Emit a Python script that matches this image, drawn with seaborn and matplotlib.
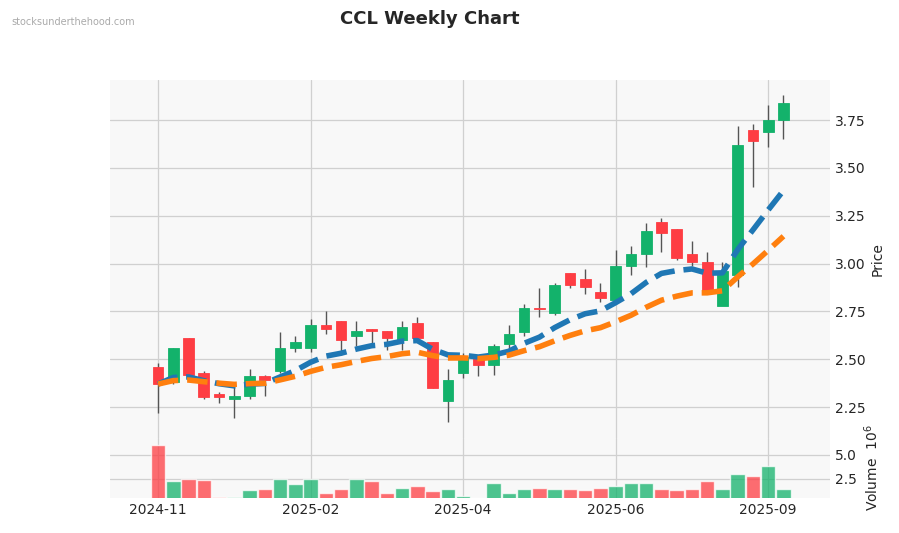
import numpy as np
import pandas as pd
import matplotlib
matplotlib.use("Agg")
import matplotlib.pyplot as plt
import seaborn as sns

opens  = [2.46,2.38,2.61,2.43,2.32,2.29,2.31,2.41,2.44,2.56,2.56,2.68,2.70,2.62,2.66,2.65,2.60,2.69,2.59,2.28,2.43,2.51,2.47,2.58,2.64,2.77,2.74,2.95,2.92,2.85,2.81,2.99,3.05,3.22,3.18,3.05,3.01,2.78,2.94,3.70,3.69,3.75]
highs  = [2.48,2.56,2.61,2.44,2.33,2.36,2.45,2.42,2.64,2.62,2.71,2.75,2.70,2.70,2.66,2.65,2.70,2.72,2.59,2.45,2.53,2.52,2.58,2.68,2.79,2.87,2.90,2.95,2.97,2.90,3.07,3.09,3.21,3.24,3.18,3.12,3.06,3.01,3.72,3.73,3.83,3.88]
lows   = [2.22,2.37,2.41,2.29,2.27,2.19,2.29,2.31,2.43,2.54,2.54,2.63,2.52,2.57,2.58,2.55,2.55,2.59,2.35,2.17,2.40,2.41,2.42,2.56,2.62,2.72,2.73,2.87,2.84,2.80,2.79,2.94,2.98,3.06,3.02,2.99,2.84,2.80,2.88,3.40,3.61,3.65]
closes = [2.37,2.56,2.42,2.30,2.30,2.31,2.41,2.39,2.56,2.59,2.68,2.66,2.60,2.65,2.65,2.61,2.67,2.61,2.35,2.39,2.51,2.47,2.57,2.63,2.77,2.76,2.89,2.89,2.88,2.82,2.99,3.05,3.17,3.16,3.03,3.01,2.85,2.96,3.62,3.64,3.75,3.84]
volumes_m = [6.0,2.2,2.4,2.3,0.6,0.6,1.25,1.45,2.4,1.9,2.4,1.0,1.35,2.5,2.2,1.0,1.55,1.75,1.15,1.45,0.7,0.5,2.0,1.0,1.45,1.55,1.35,1.45,1.25,1.55,1.75,2.0,2.0,1.35,1.25,1.45,2.2,1.45,3.0,2.8,3.8,1.35]
tick_pos = [0, 10, 20, 30, 40]
tick_labels = ["2024-11", "2025-02", "2025-04", "2025-06", "2025-09"]

df = pd.DataFrame({"o": opens, "h": highs, "l": lows, "c": closes, "v": volumes_m})
df["i"] = np.arange(len(df))
df["up"] = df["c"] >= df["o"]
df["ma1"] = df["c"].ewm(span=10, adjust=False).mean()
df["ma2"] = df["c"].ewm(span=20, adjust=False).mean()

sns.set_style("whitegrid")
GREEN, RED = "#13b26b", "#fe3d43"
fig = plt.figure(figsize=(8.99, 5.33), dpi=100)
ax = fig.add_axes([110/899, 1-438/533, 720/899, 358/533])
axv = fig.add_axes([110/899, 1-498/533, 720/899, 60/533], sharex=ax)
for a in (ax, axv):
    a.set_facecolor("#f8f8f8")
    a.grid(True, color="#d0d0d0", lw=0.9)
    for s in a.spines.values():
        s.set_visible(False)
    a.yaxis.tick_right()
    a.yaxis.set_label_position("right")
    a.tick_params(length=0)

cols = [GREEN if u else RED for u in df["up"]]
ax.vlines(df["i"], df["l"], df["h"], color="#555555", lw=1, zorder=2)
ax.bar(df["i"], (df["c"] - df["o"]).abs().clip(lower=0.008), bottom=np.minimum(df["o"], df["c"]),
       width=0.7, color=cols, edgecolor=cols, lw=0.6, zorder=3)
sns.lineplot(x=df["i"], y=df["ma1"], ax=ax, color="#1f77b4", lw=4, linestyle="--", zorder=4)
sns.lineplot(x=df["i"], y=df["ma2"], ax=ax, color="#ff7f0e", lw=4, linestyle="--", zorder=4)
ax.set_xlim(-3.15, 44.05)
ax.set_ylim(2.088, 3.96)
ax.set_yticks([2.25, 2.5, 2.75, 3.0, 3.25, 3.5, 3.75])
ax.set_ylabel("Price", fontsize=10)
ax.set_xlabel("")
plt.setp(ax.get_xticklabels(), visible=False)

axv.bar(df["i"], df["v"], width=0.95, color=cols, alpha=0.75, zorder=3)
axv.set_ylim(0.45, 6.77)
axv.set_yticks([2.5, 5.0])
axv.set_yticklabels(["2.5", "5.0"])
axv.set_ylabel("Volume  $10^6$", fontsize=10)
axv.set_xticks(tick_pos)
axv.set_xticklabels(tick_labels, fontsize=10)

fig.text(430/899, 1-19/533, "CCL Weekly Chart", ha="center", va="center", fontsize=13, fontweight="bold")
fig.text(11/899, 1-22/533, "stocksunderthehood.com", ha="left", va="center", fontsize=7, color="#aaaaaa")
fig.savefig("out.png", dpi=100)
